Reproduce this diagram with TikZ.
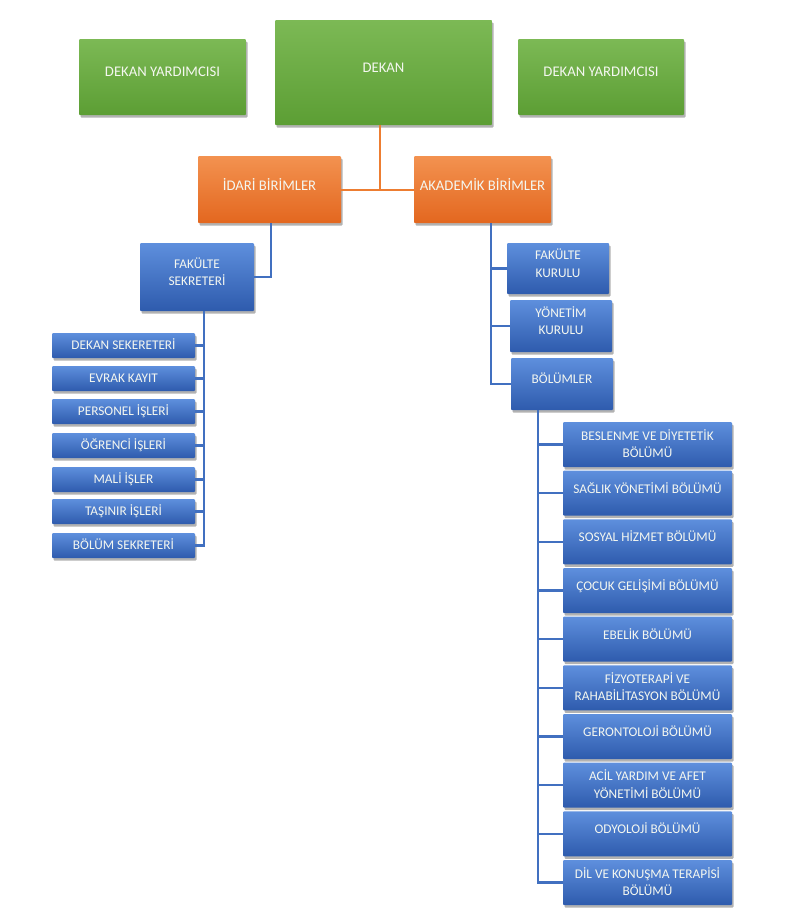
\documentclass[tikz,border=0pt]{standalone}
\usepackage{fontspec}
\setmainfont{Carlito}
\usetikzlibrary{shadows}
\definecolor{gtop}{HTML}{7CB955}
\definecolor{gbot}{HTML}{5C9E34}
\definecolor{otop}{HTML}{F39250}
\definecolor{obot}{HTML}{E3671F}
\definecolor{btop}{HTML}{5E8FDD}
\definecolor{bbot}{HTML}{2E5BAD}
\definecolor{oline}{HTML}{ED7D31}
\definecolor{bline}{HTML}{4170C0}
\definecolor{txt}{HTML}{F4F7F0}
\begin{document}
\begin{tikzpicture}[x=1pt,y=-1pt,
  box/.style={rectangle, rounded corners=1pt, inner sep=0pt, text=txt, align=center,
    drop shadow={shadow xshift=1.5pt, shadow yshift=-2.5pt, opacity=0.3, fill=black}},
  gbox/.style={box, top color=gtop, bottom color=gbot, font=\fontsize{14.7}{18}\selectfont,
    text height=9.5pt, text depth=10pt},
  obox/.style={box, top color=otop, bottom color=obot, font=\fontsize{14.7}{18}\selectfont,
    text height=9.5pt, text depth=8pt},
  bbase/.style={box, top color=btop, bottom color=bbot, font=\fontsize{13.3}{17.5}\selectfont},
  bone/.style={bbase, text height=8.6pt, text depth=9pt},
  btwo/.style={bbase, text height=26.1pt, text depth=0pt},
  btwoup/.style={bbase, text height=26.1pt, text depth=9pt},
  lbox/.style={bbase, text height=8.6pt, text depth=0pt, minimum width=143pt, minimum height=25pt},
  dbox/.style={minimum width=169pt, minimum height=45pt},
  ol/.style={draw=oline, line width=2pt},
  bl/.style={draw=bline, line width=2.5pt}]
\useasboundingbox (0,0) rectangle (797,911);

% top level
\node[gbox, minimum width=167pt, minimum height=76pt] (dyl) at (162.5,77) {DEKAN YARDIMCISI};
\node[gbox, minimum width=217pt, minimum height=105pt] (dekan) at (383.5,72.5) {DEKAN};
\node[gbox, minimum width=166pt, minimum height=76pt] (dyr) at (601,77) {DEKAN YARDIMCISI};

\node[obox, minimum width=143pt, minimum height=67pt] (idari) at (269.5,189.5) {İDARİ BİRİMLER};
\node[obox, minimum width=137pt, minimum height=67pt] (akad) at (482.5,189.5) {AKADEMİK BİRİMLER};

% left branch
\node[btwoup, minimum width=114pt, minimum height=68pt] (fs) at (197,277) {FAKÜLTE\\SEKRETERİ};
\node[lbox] (l1) at (123.5,345.5) {DEKAN SEKERETERİ};
\node[lbox] (l2) at (123.5,378.5) {EVRAK KAYIT};
\node[lbox] (l3) at (123.5,411.5) {PERSONEL İŞLERİ};
\node[lbox] (l4) at (123.5,445.5) {ÖĞRENCİ İŞLERİ};
\node[lbox] (l5) at (123.5,479.5) {MALİ İŞLER};
\node[lbox] (l6) at (123.5,511.5) {TAŞINIR İŞLERİ};
\node[lbox] (l7) at (123.5,545.5) {BÖLÜM SEKRETERİ};

% right branch
\node[btwoup, minimum width=102pt, minimum height=51pt] (fk) at (558,268.5) {FAKÜLTE\\KURULU};
\node[btwoup, minimum width=102pt, minimum height=52pt] (yk) at (561,326) {YÖNETİM\\KURULU};
\node[bone, minimum width=102pt, minimum height=52pt] (bol) at (562,384) {BÖLÜMLER};

\node[btwo, dbox] (d1) at (647.5,444.5) {BESLENME VE DİYETETİK\\BÖLÜMÜ};
\node[bone, dbox] (d2) at (647.5,493.2) {SAĞLIK YÖNETİMİ BÖLÜMÜ};
\node[bone, dbox] (d3) at (647.5,541.8) {SOSYAL HİZMET BÖLÜMÜ};
\node[bone, dbox] (d4) at (647.5,590.5) {ÇOCUK GELİŞİMİ BÖLÜMÜ};
\node[bone, dbox] (d5) at (647.5,639.2) {EBELİK BÖLÜMÜ};
\node[btwo, dbox] (d6) at (647.5,687.8) {FİZYOTERAPİ VE\\RAHABİLİTASYON BÖLÜMÜ};
\node[bone, dbox] (d7) at (647.5,736.5) {GERONTOLOJİ BÖLÜMÜ};
\node[btwo, dbox] (d8) at (647.5,785.2) {ACİL YARDIM VE AFET\\YÖNETİMİ BÖLÜMÜ};
\node[bone, dbox] (d9) at (647.5,833.8) {ODYOLOJİ BÖLÜMÜ};
\node[btwo, dbox] (d10) at (647.5,882.5) {DİL VE KONUŞMA TERAPİSİ\\BÖLÜMÜ};

% connectors
\draw[ol] ([xshift=-3.5pt]dekan.south) -- ([xshift=-3.5pt]dekan.south |- idari.east);
\draw[ol] (idari.east) -- (akad.west);

\draw[bl] ([xshift=1.5pt]idari.south) |- (fs.east);
\draw[bl] ([xshift=7pt]fs.south) coordinate (tl) |- (l7.east);
\foreach \n in {l1,l2,l3,l4,l5,l6} \draw[bl] (\n.east) -- (\n.east -| tl);

\draw[bl] ([xshift=8.5pt]akad.south) coordinate (ta) |- (bol.west);
\foreach \n in {fk,yk} \draw[bl] (\n.west) -- (\n.west -| ta);

\draw[bl] ([xshift=-24pt]bol.south) coordinate (tb) |- (d10.west);
\foreach \n in {d1,d2,d3,d4,d5,d6,d7,d8,d9} \draw[bl] (\n.west) -- (\n.west -| tb);
\end{tikzpicture}
\end{document}
